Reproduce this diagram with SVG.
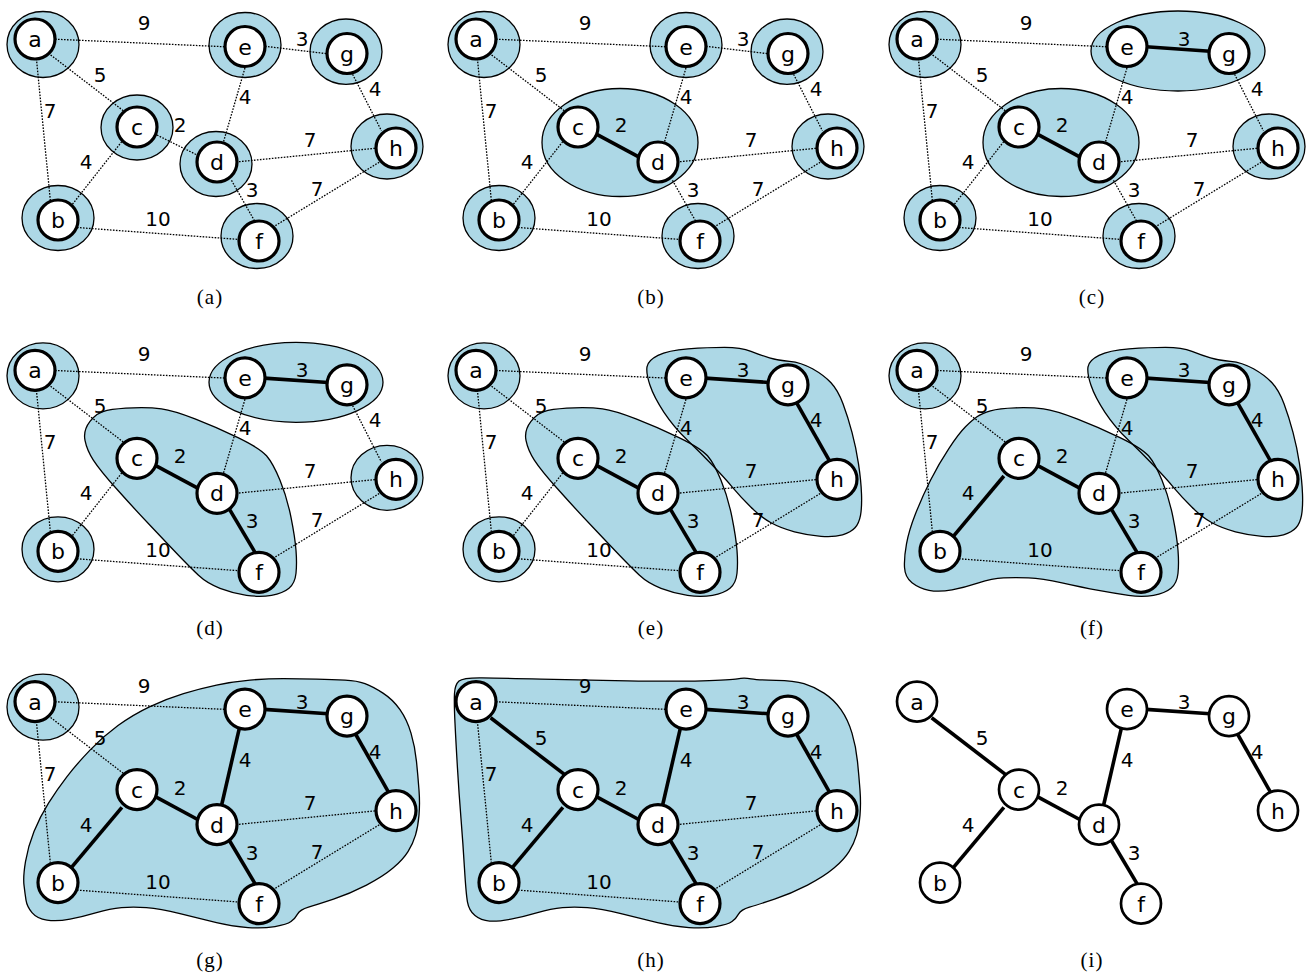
<svg xmlns="http://www.w3.org/2000/svg" xmlns:xlink="http://www.w3.org/1999/xlink" width="1307" height="975" viewBox="0 0 1307 975">
<style>
.rf{fill:#add8e6;stroke:none}
.ro{fill:none;stroke:#000;stroke-width:1.3}
.dt line{stroke:#000;stroke-width:1.3;stroke-dasharray:1.6 1.4;fill:none}
.tk line{stroke:#000;stroke-width:3.6;fill:none}
.n circle{fill:#fff;stroke:#000;stroke-width:3.2}
.ni circle{stroke-width:2.7}
.n text{font-family:"DejaVu Sans",sans-serif;font-size:22px;text-anchor:middle;fill:#000}
.w{font-family:"DejaVu Sans",sans-serif;font-size:20px;text-anchor:middle;fill:#000}
.cap{font-family:"Liberation Serif",serif;font-size:21px;letter-spacing:1px;text-anchor:middle;fill:#000}
</style>
<defs>
<ellipse id="rA" cx="43" cy="44.5" rx="36" ry="33"/>
<ellipse id="rE" cx="245" cy="45" rx="36" ry="32.5"/>
<ellipse id="rG" cx="346" cy="51.7" rx="36" ry="32.7"/>
<ellipse id="rC" cx="137" cy="127.5" rx="36" ry="32.5"/>
<ellipse id="rD" cx="216" cy="164" rx="36" ry="32.5"/>
<ellipse id="rH" cx="387" cy="146.5" rx="36" ry="32.5"/>
<ellipse id="rB" cx="58" cy="218" rx="36" ry="32.5"/>
<ellipse id="rF" cx="257" cy="236" rx="36" ry="32.5"/>
<ellipse id="rCD" cx="179" cy="142.5" rx="78" ry="54"/>
<ellipse id="rEG" cx="296" cy="51" rx="87" ry="40"/>
<path id="bD" d="M85,109 Q83,99 90,90 Q97,81 107,79 Q117,77 133.5,76.5 Q150,76 161.5,77.5 Q173,79 195,87.5 Q217,96 238.5,106.5 Q260,117 266.5,124.5 Q273,132 280,149 Q287,166 291,186 Q295,206 296,219 Q297,232 296,242 Q295,252 289,257 Q283,262 271.5,264 Q260,266 246.5,264 Q233,262 220,257 Q207,252 198.5,244 Q190,236 178.5,224 Q167,212 150,194 Q133,176 116.5,157.5 Q100,139 93.5,129 Q87,119 85,109 Z"/>
<path id="bE" d="M206,35.5 Q207,29 217,24 Q227,19 247,17.5 Q267,16 283.5,16 Q300,16 310,20 Q320,24 328.5,26.5 Q337,29 348.5,30 Q360,31 371.5,37.5 Q383,44 390,51.5 Q397,59 402,72.5 Q407,86 411,101 Q415,116 417.5,132.5 Q420,149 420.5,162.5 Q421,176 419.5,184 Q418,192 414,196.5 Q410,201 401.5,203.5 Q393,206 380,205 Q367,204 353.5,200.5 Q340,197 330,191.5 Q320,186 310,176 Q300,166 291.5,156 Q283,146 271.5,134 Q260,122 246.5,109 Q233,96 223,81 Q213,66 209,54 Q205,42 206,35.5 Z"/>
<path id="bF" d="M95,85.5 Q100,82 108.5,79.5 Q117,77 133.5,76.5 Q150,76 161.5,77.5 Q173,79 195,87.5 Q217,96 238.5,106.5 Q260,117 266.5,124.5 Q273,132 280,149 Q287,166 291,186 Q295,206 296,219 Q297,232 296,242 Q295,252 289,257 Q283,262 271.5,264 Q260,266 246.5,264 Q233,262 216.5,259 Q200,256 180,251.5 Q160,247 146.5,246.5 Q133,246 121.5,246.5 Q110,247 96.5,251.5 Q83,256 70,258.5 Q57,261 47,259 Q37,257 30,251.5 Q23,246 22.5,236 Q22,226 24.5,212.5 Q27,199 33.5,182.5 Q40,166 48.5,149 Q57,132 67,117 Q77,102 83.5,95.5 Q90,89 95,85.5 Z"/>
<path id="bG" d="M26,237.5 Q25,231 24,222.5 Q23,214 25.5,199 Q28,184 34,169 Q40,154 48.5,140.5 Q57,127 67,114 Q77,101 90,87.5 Q103,74 118,63 Q133,52 150,44 Q167,36 183.5,31 Q200,26 216.5,22.5 Q233,19 250,17.5 Q267,16 283.5,16 Q300,16 316.5,16.5 Q333,17 345,17.5 Q357,18 365,21 Q373,24 383,30.5 Q393,37 400,47 Q407,57 411,70.5 Q415,84 416.5,99 Q418,114 419,127.5 Q420,141 419,152.5 Q418,164 415.5,172.5 Q413,181 408,189 Q403,197 393,205.5 Q383,214 366.5,222.5 Q350,231 333.5,236.5 Q317,242 308.5,244.5 Q300,247 297.5,251.5 Q295,256 291,259 Q287,262 275,264 Q263,266 248,265 Q233,264 216.5,260 Q200,256 180,251 Q160,246 146.5,245 Q133,244 121.5,245 Q110,246 96.5,250 Q83,254 70,256.5 Q57,259 47,257.5 Q37,256 32,250 Q27,244 26,237.5 Z"/>
<path id="bH" d="M14,60.5 Q13,40 13.5,31 Q14,22 18,18.5 Q22,15 41,15.25 Q60,15.5 100,16.5 Q140,17.5 186.5,18.25 Q233,19 261.5,18.2 Q290,17.4 296.5,16.2 Q303,15 310,16.2 Q317,17.4 335,17.7 Q353,18 363,21 Q373,24 383,30.5 Q393,37 400,47 Q407,57 411,70.5 Q415,84 416.5,99 Q418,114 419,127.5 Q420,141 419,152.5 Q418,164 415.5,172.5 Q413,181 408,189 Q403,197 393,205.5 Q383,214 366.5,222.5 Q350,231 333.5,236.5 Q317,242 308.5,244.5 Q300,247 297.5,251.5 Q295,256 291,259 Q287,262 275,264 Q263,266 248,265 Q233,264 216.5,260 Q200,256 180,251 Q160,246 146.5,245 Q133,244 121.5,245 Q110,246 96.5,250 Q83,254 70,256.5 Q57,259 48.5,258.5 Q40,258 34,253 Q28,248 26.5,239.5 Q25,231 23.5,206 Q22,181 20,156 Q18,131 16.5,106 Q15,81 14,60.5 Z"/>
</defs>
<rect width="1307" height="975" fill="#fff"/>

<!-- (a) -->
<g id="panel-a">
<g id="regions-a">
<use xlink:href="#rA" class="rf"/><use xlink:href="#rE" class="rf"/><use xlink:href="#rG" class="rf"/><use xlink:href="#rC" class="rf"/><use xlink:href="#rD" class="rf"/><use xlink:href="#rH" class="rf"/><use xlink:href="#rB" class="rf"/><use xlink:href="#rF" class="rf"/>
<use xlink:href="#rA" class="ro"/><use xlink:href="#rE" class="ro"/><use xlink:href="#rG" class="ro"/><use xlink:href="#rC" class="ro"/><use xlink:href="#rD" class="ro"/><use xlink:href="#rH" class="ro"/><use xlink:href="#rB" class="ro"/><use xlink:href="#rF" class="ro"/>
</g>
<g id="connectors-a">
<g class="dt">
<line x1="55" y1="39.2" x2="226" y2="46.8"/><line x1="265" y1="46.3" x2="327" y2="53.7"/><line x1="50.6" y1="54.9" x2="123.4" y2="110.8"/><line x1="36.4" y1="58.7" x2="50.3" y2="200"/><line x1="154.3" y1="133.7" x2="197.7" y2="155.3"/><line x1="245.8" y1="65.1" x2="223.2" y2="142.9"/><line x1="352.6" y1="74.3" x2="381.4" y2="130.7"/><line x1="236" y1="162" x2="378" y2="148"/><line x1="123.6" y1="139.3" x2="72.1" y2="204.7"/><line x1="231.5" y1="180.4" x2="255.5" y2="222.6"/><line x1="275.4" y1="225.6" x2="380.6" y2="161.4"/><line x1="77" y1="227.5" x2="240" y2="239.5"/>
</g>
<text class="w" x="144" y="30">9</text><text class="w" x="302" y="46">3</text><text class="w" x="100" y="82">5</text><text class="w" x="50" y="118">7</text><text class="w" x="180" y="132">2</text><text class="w" x="245" y="104">4</text><text class="w" x="375" y="96">4</text><text class="w" x="310" y="147">7</text><text class="w" x="86" y="169">4</text><text class="w" x="252" y="197">3</text><text class="w" x="317" y="196">7</text><text class="w" x="158" y="226">10</text>
</g>
<g id="a-a" class="n"><circle cx="35" cy="39" r="20"/><text x="35" y="47">a</text></g>
<g id="a-e" class="n"><circle cx="245" cy="46.5" r="20"/><text x="245" y="54.5">e</text></g>
<g id="a-g" class="n"><circle cx="347" cy="53.5" r="20"/><text x="347" y="61.5">g</text></g>
<g id="a-c" class="n"><circle cx="137" cy="127" r="20"/><text x="137" y="135">c</text></g>
<g id="a-d" class="n"><circle cx="217" cy="162" r="20"/><text x="217" y="170">d</text></g>
<g id="a-h" class="n"><circle cx="396" cy="148" r="20"/><text x="396" y="156">h</text></g>
<g id="a-b" class="n"><circle cx="58" cy="220" r="20"/><text x="58" y="228">b</text></g>
<g id="a-f" class="n"><circle cx="259" cy="241" r="20"/><text x="259" y="249">f</text></g>
<text class="cap" x="210" y="304">(a)</text>
</g>

<!-- (b) -->
<g id="panel-b" transform="translate(441,0)">
<g id="regions-b">
<use xlink:href="#rA" class="rf"/><use xlink:href="#rE" class="rf"/><use xlink:href="#rG" class="rf"/><use xlink:href="#rCD" class="rf"/><use xlink:href="#rH" class="rf"/><use xlink:href="#rB" class="rf"/><use xlink:href="#rF" class="rf"/>
<use xlink:href="#rA" class="ro"/><use xlink:href="#rE" class="ro"/><use xlink:href="#rG" class="ro"/><use xlink:href="#rCD" class="ro"/><use xlink:href="#rH" class="ro"/><use xlink:href="#rB" class="ro"/><use xlink:href="#rF" class="ro"/>
</g>
<g id="connectors-b">
<g class="dt">
<line x1="55" y1="39.2" x2="226" y2="46.8"/><line x1="265" y1="46.3" x2="327" y2="53.7"/><line x1="50.6" y1="54.9" x2="123.4" y2="110.8"/><line x1="36.4" y1="58.7" x2="50.3" y2="200"/><line x1="245.8" y1="65.1" x2="223.2" y2="142.9"/><line x1="352.6" y1="74.3" x2="381.4" y2="130.7"/><line x1="236" y1="162" x2="378" y2="148"/><line x1="123.6" y1="139.3" x2="72.1" y2="204.7"/><line x1="231.5" y1="180.4" x2="255.5" y2="222.6"/><line x1="275.4" y1="225.6" x2="380.6" y2="161.4"/><line x1="77" y1="227.5" x2="240" y2="239.5"/>
</g>
<g class="tk"><line x1="154.4" y1="133.6" x2="198.6" y2="157.4"/></g>
<text class="w" x="144" y="30">9</text><text class="w" x="302" y="46">3</text><text class="w" x="100" y="82">5</text><text class="w" x="50" y="118">7</text><text class="w" x="180" y="132">2</text><text class="w" x="245" y="104">4</text><text class="w" x="375" y="96">4</text><text class="w" x="310" y="147">7</text><text class="w" x="86" y="169">4</text><text class="w" x="252" y="197">3</text><text class="w" x="317" y="196">7</text><text class="w" x="158" y="226">10</text>
</g>
<g id="b-a" class="n"><circle cx="35" cy="39" r="20"/><text x="35" y="47">a</text></g>
<g id="b-e" class="n"><circle cx="245" cy="46.5" r="20"/><text x="245" y="54.5">e</text></g>
<g id="b-g" class="n"><circle cx="347" cy="53.5" r="20"/><text x="347" y="61.5">g</text></g>
<g id="b-c" class="n"><circle cx="137" cy="127" r="20"/><text x="137" y="135">c</text></g>
<g id="b-d" class="n"><circle cx="217" cy="162" r="20"/><text x="217" y="170">d</text></g>
<g id="b-h" class="n"><circle cx="396" cy="148" r="20"/><text x="396" y="156">h</text></g>
<g id="b-b" class="n"><circle cx="58" cy="220" r="20"/><text x="58" y="228">b</text></g>
<g id="b-f" class="n"><circle cx="259" cy="241" r="20"/><text x="259" y="249">f</text></g>
<text class="cap" x="210" y="304">(b)</text>
</g>

<!-- (c) -->
<g id="panel-c" transform="translate(882,0)">
<g id="regions-c">
<use xlink:href="#rA" class="rf"/><use xlink:href="#rEG" class="rf"/><use xlink:href="#rCD" class="rf"/><use xlink:href="#rH" class="rf"/><use xlink:href="#rB" class="rf"/><use xlink:href="#rF" class="rf"/>
<use xlink:href="#rA" class="ro"/><use xlink:href="#rEG" class="ro"/><use xlink:href="#rCD" class="ro"/><use xlink:href="#rH" class="ro"/><use xlink:href="#rB" class="ro"/><use xlink:href="#rF" class="ro"/>
</g>
<g id="connectors-c">
<g class="dt">
<line x1="55" y1="39.2" x2="226" y2="46.8"/><line x1="50.6" y1="54.9" x2="123.4" y2="110.8"/><line x1="36.4" y1="58.7" x2="50.3" y2="200"/><line x1="245.8" y1="65.1" x2="223.2" y2="142.9"/><line x1="352.6" y1="74.3" x2="381.4" y2="130.7"/><line x1="236" y1="162" x2="378" y2="148"/><line x1="123.6" y1="139.3" x2="72.1" y2="204.7"/><line x1="231.5" y1="180.4" x2="255.5" y2="222.6"/><line x1="275.4" y1="225.6" x2="380.6" y2="161.4"/><line x1="77" y1="227.5" x2="240" y2="239.5"/>
</g>
<g class="tk"><line x1="154.4" y1="133.6" x2="198.6" y2="157.4"/><line x1="264" y1="46.8" x2="328" y2="51.2"/></g>
<text class="w" x="144" y="30">9</text><text class="w" x="302" y="46">3</text><text class="w" x="100" y="82">5</text><text class="w" x="50" y="118">7</text><text class="w" x="180" y="132">2</text><text class="w" x="245" y="104">4</text><text class="w" x="375" y="96">4</text><text class="w" x="310" y="147">7</text><text class="w" x="86" y="169">4</text><text class="w" x="252" y="197">3</text><text class="w" x="317" y="196">7</text><text class="w" x="158" y="226">10</text>
</g>
<g id="c-a" class="n"><circle cx="35" cy="39" r="20"/><text x="35" y="47">a</text></g>
<g id="c-e" class="n"><circle cx="245" cy="46.5" r="20"/><text x="245" y="54.5">e</text></g>
<g id="c-g" class="n"><circle cx="347" cy="53.5" r="20"/><text x="347" y="61.5">g</text></g>
<g id="c-c" class="n"><circle cx="137" cy="127" r="20"/><text x="137" y="135">c</text></g>
<g id="c-d" class="n"><circle cx="217" cy="162" r="20"/><text x="217" y="170">d</text></g>
<g id="c-h" class="n"><circle cx="396" cy="148" r="20"/><text x="396" y="156">h</text></g>
<g id="c-b" class="n"><circle cx="58" cy="220" r="20"/><text x="58" y="228">b</text></g>
<g id="c-f" class="n"><circle cx="259" cy="241" r="20"/><text x="259" y="249">f</text></g>
<text class="cap" x="210" y="304">(c)</text>
</g>

<!-- (d) -->
<g id="panel-d" transform="translate(0,331.3)">
<g id="regions-d">
<use xlink:href="#rA" class="rf"/><use xlink:href="#rEG" class="rf"/><use xlink:href="#bD" class="rf"/><use xlink:href="#rH" class="rf"/><use xlink:href="#rB" class="rf"/>
<use xlink:href="#rA" class="ro"/><use xlink:href="#rEG" class="ro"/><use xlink:href="#bD" class="ro"/><use xlink:href="#rH" class="ro"/><use xlink:href="#rB" class="ro"/>
</g>
<g id="connectors-d">
<g class="dt">
<line x1="55" y1="39.2" x2="226" y2="46.8"/><line x1="50.6" y1="54.9" x2="123.4" y2="110.8"/><line x1="36.4" y1="58.7" x2="50.3" y2="200"/><line x1="245.8" y1="65.1" x2="223.2" y2="142.9"/><line x1="352.6" y1="74.3" x2="381.4" y2="130.7"/><line x1="236" y1="162" x2="378" y2="148"/><line x1="123.6" y1="139.3" x2="72.1" y2="204.7"/><line x1="275.4" y1="225.6" x2="380.6" y2="161.4"/><line x1="77" y1="227.5" x2="240" y2="239.5"/>
</g>
<g class="tk"><line x1="154.4" y1="133.6" x2="198.6" y2="157.4"/><line x1="264" y1="46.8" x2="328" y2="51.2"/><line x1="228.5" y1="176.4" x2="256.5" y2="223.6"/></g>
<text class="w" x="144" y="30">9</text><text class="w" x="302" y="46">3</text><text class="w" x="100" y="82">5</text><text class="w" x="50" y="118">7</text><text class="w" x="180" y="132">2</text><text class="w" x="245" y="104">4</text><text class="w" x="375" y="96">4</text><text class="w" x="310" y="147">7</text><text class="w" x="86" y="169">4</text><text class="w" x="252" y="197">3</text><text class="w" x="317" y="196">7</text><text class="w" x="158" y="226">10</text>
</g>
<g id="d-a" class="n"><circle cx="35" cy="39" r="20"/><text x="35" y="47">a</text></g>
<g id="d-e" class="n"><circle cx="245" cy="46.5" r="20"/><text x="245" y="54.5">e</text></g>
<g id="d-g" class="n"><circle cx="347" cy="53.5" r="20"/><text x="347" y="61.5">g</text></g>
<g id="d-c" class="n"><circle cx="137" cy="127" r="20"/><text x="137" y="135">c</text></g>
<g id="d-d" class="n"><circle cx="217" cy="162" r="20"/><text x="217" y="170">d</text></g>
<g id="d-h" class="n"><circle cx="396" cy="148" r="20"/><text x="396" y="156">h</text></g>
<g id="d-b" class="n"><circle cx="58" cy="220" r="20"/><text x="58" y="228">b</text></g>
<g id="d-f" class="n"><circle cx="259" cy="241" r="20"/><text x="259" y="249">f</text></g>
<text class="cap" x="210" y="304">(d)</text>
</g>

<!-- (e) -->
<g id="panel-e" transform="translate(441,331.3)">
<g id="regions-e">
<use xlink:href="#rA" class="rf"/><use xlink:href="#bE" class="rf"/><use xlink:href="#bD" class="rf"/><use xlink:href="#rB" class="rf"/>
<use xlink:href="#rA" class="ro"/><use xlink:href="#bE" class="ro"/><use xlink:href="#bD" class="ro"/><use xlink:href="#rB" class="ro"/>
</g>
<g id="connectors-e">
<g class="dt">
<line x1="55" y1="39.2" x2="226" y2="46.8"/><line x1="50.6" y1="54.9" x2="123.4" y2="110.8"/><line x1="36.4" y1="58.7" x2="50.3" y2="200"/><line x1="245.8" y1="65.1" x2="223.2" y2="142.9"/><line x1="236" y1="162" x2="378" y2="148"/><line x1="123.6" y1="139.3" x2="72.1" y2="204.7"/><line x1="275.4" y1="225.6" x2="380.6" y2="161.4"/><line x1="77" y1="227.5" x2="240" y2="239.5"/>
</g>
<g class="tk"><line x1="154.4" y1="133.6" x2="198.6" y2="157.4"/><line x1="264" y1="46.8" x2="328" y2="51.2"/><line x1="228.5" y1="176.4" x2="256.5" y2="223.6"/><line x1="355.5" y1="71.4" x2="388.5" y2="129.6"/></g>
<text class="w" x="144" y="30">9</text><text class="w" x="302" y="46">3</text><text class="w" x="100" y="82">5</text><text class="w" x="50" y="118">7</text><text class="w" x="180" y="132">2</text><text class="w" x="245" y="104">4</text><text class="w" x="375" y="96">4</text><text class="w" x="310" y="147">7</text><text class="w" x="86" y="169">4</text><text class="w" x="252" y="197">3</text><text class="w" x="317" y="196">7</text><text class="w" x="158" y="226">10</text>
</g>
<g id="e-a" class="n"><circle cx="35" cy="39" r="20"/><text x="35" y="47">a</text></g>
<g id="e-e" class="n"><circle cx="245" cy="46.5" r="20"/><text x="245" y="54.5">e</text></g>
<g id="e-g" class="n"><circle cx="347" cy="53.5" r="20"/><text x="347" y="61.5">g</text></g>
<g id="e-c" class="n"><circle cx="137" cy="127" r="20"/><text x="137" y="135">c</text></g>
<g id="e-d" class="n"><circle cx="217" cy="162" r="20"/><text x="217" y="170">d</text></g>
<g id="e-h" class="n"><circle cx="396" cy="148" r="20"/><text x="396" y="156">h</text></g>
<g id="e-b" class="n"><circle cx="58" cy="220" r="20"/><text x="58" y="228">b</text></g>
<g id="e-f" class="n"><circle cx="259" cy="241" r="20"/><text x="259" y="249">f</text></g>
<text class="cap" x="210" y="304">(e)</text>
</g>

<!-- (f) -->
<g id="panel-f" transform="translate(882,331.3)">
<g id="regions-f">
<use xlink:href="#rA" class="rf"/><use xlink:href="#bE" class="rf"/><use xlink:href="#bF" class="rf"/>
<use xlink:href="#rA" class="ro"/><use xlink:href="#bE" class="ro"/><use xlink:href="#bF" class="ro"/>
</g>
<g id="connectors-f">
<g class="dt">
<line x1="55" y1="39.2" x2="226" y2="46.8"/><line x1="50.6" y1="54.9" x2="123.4" y2="110.8"/><line x1="36.4" y1="58.7" x2="50.3" y2="200"/><line x1="245.8" y1="65.1" x2="223.2" y2="142.9"/><line x1="236" y1="162" x2="378" y2="148"/><line x1="275.4" y1="225.6" x2="380.6" y2="161.4"/><line x1="77" y1="227.5" x2="240" y2="239.5"/>
</g>
<g class="tk"><line x1="154.4" y1="133.6" x2="198.6" y2="157.4"/><line x1="264" y1="46.8" x2="328" y2="51.2"/><line x1="228.5" y1="176.4" x2="256.5" y2="223.6"/><line x1="355.5" y1="71.4" x2="388.5" y2="129.6"/><line x1="121.9" y1="144.7" x2="71.1" y2="205.3"/></g>
<text class="w" x="144" y="30">9</text><text class="w" x="302" y="46">3</text><text class="w" x="100" y="82">5</text><text class="w" x="50" y="118">7</text><text class="w" x="180" y="132">2</text><text class="w" x="245" y="104">4</text><text class="w" x="375" y="96">4</text><text class="w" x="310" y="147">7</text><text class="w" x="86" y="169">4</text><text class="w" x="252" y="197">3</text><text class="w" x="317" y="196">7</text><text class="w" x="158" y="226">10</text>
</g>
<g id="f-a" class="n"><circle cx="35" cy="39" r="20"/><text x="35" y="47">a</text></g>
<g id="f-e" class="n"><circle cx="245" cy="46.5" r="20"/><text x="245" y="54.5">e</text></g>
<g id="f-g" class="n"><circle cx="347" cy="53.5" r="20"/><text x="347" y="61.5">g</text></g>
<g id="f-c" class="n"><circle cx="137" cy="127" r="20"/><text x="137" y="135">c</text></g>
<g id="f-d" class="n"><circle cx="217" cy="162" r="20"/><text x="217" y="170">d</text></g>
<g id="f-h" class="n"><circle cx="396" cy="148" r="20"/><text x="396" y="156">h</text></g>
<g id="f-b" class="n"><circle cx="58" cy="220" r="20"/><text x="58" y="228">b</text></g>
<g id="f-f" class="n"><circle cx="259" cy="241" r="20"/><text x="259" y="249">f</text></g>
<text class="cap" x="210" y="304">(f)</text>
</g>

<!-- (g) -->
<g id="panel-g" transform="translate(0,662.6)">
<g id="regions-g">
<use xlink:href="#rA" class="rf"/><use xlink:href="#bG" class="rf"/>
<use xlink:href="#rA" class="ro"/><use xlink:href="#bG" class="ro"/>
</g>
<g id="connectors-g">
<g class="dt">
<line x1="55" y1="39.2" x2="226" y2="46.8"/><line x1="50.6" y1="54.9" x2="123.4" y2="110.8"/><line x1="36.4" y1="58.7" x2="50.3" y2="200"/><line x1="236" y1="162" x2="378" y2="148"/><line x1="275.4" y1="225.6" x2="380.6" y2="161.4"/><line x1="77" y1="227.5" x2="240" y2="239.5"/>
</g>
<g class="tk"><line x1="154.4" y1="133.6" x2="198.6" y2="157.4"/><line x1="264" y1="46.8" x2="328" y2="51.2"/><line x1="228.5" y1="176.4" x2="256.5" y2="223.6"/><line x1="355.5" y1="71.4" x2="388.5" y2="129.6"/><line x1="121.9" y1="144.7" x2="71.1" y2="205.3"/><line x1="239.7" y1="64.1" x2="221.3" y2="143.9"/></g>
<text class="w" x="144" y="30">9</text><text class="w" x="302" y="46">3</text><text class="w" x="100" y="82">5</text><text class="w" x="50" y="118">7</text><text class="w" x="180" y="132">2</text><text class="w" x="245" y="104">4</text><text class="w" x="375" y="96">4</text><text class="w" x="310" y="147">7</text><text class="w" x="86" y="169">4</text><text class="w" x="252" y="197">3</text><text class="w" x="317" y="196">7</text><text class="w" x="158" y="226">10</text>
</g>
<g id="g-a" class="n"><circle cx="35" cy="39" r="20"/><text x="35" y="47">a</text></g>
<g id="g-e" class="n"><circle cx="245" cy="46.5" r="20"/><text x="245" y="54.5">e</text></g>
<g id="g-g" class="n"><circle cx="347" cy="53.5" r="20"/><text x="347" y="61.5">g</text></g>
<g id="g-c" class="n"><circle cx="137" cy="127" r="20"/><text x="137" y="135">c</text></g>
<g id="g-d" class="n"><circle cx="217" cy="162" r="20"/><text x="217" y="170">d</text></g>
<g id="g-h" class="n"><circle cx="396" cy="148" r="20"/><text x="396" y="156">h</text></g>
<g id="g-b" class="n"><circle cx="58" cy="220" r="20"/><text x="58" y="228">b</text></g>
<g id="g-f" class="n"><circle cx="259" cy="241" r="20"/><text x="259" y="249">f</text></g>
<text class="cap" x="210" y="304">(g)</text>
</g>

<!-- (h) -->
<g id="panel-h" transform="translate(441,662.6)">
<g id="regions-h">
<use xlink:href="#bH" class="rf"/>
<use xlink:href="#bH" class="ro"/>
</g>
<g id="connectors-h">
<g class="dt">
<line x1="55" y1="39.2" x2="226" y2="46.8"/><line x1="36.4" y1="58.7" x2="50.3" y2="200"/><line x1="236" y1="162" x2="378" y2="148"/><line x1="275.4" y1="225.6" x2="380.6" y2="161.4"/><line x1="77" y1="227.5" x2="240" y2="239.5"/>
</g>
<g class="tk"><line x1="154.4" y1="133.6" x2="198.6" y2="157.4"/><line x1="264" y1="46.8" x2="328" y2="51.2"/><line x1="228.5" y1="176.4" x2="256.5" y2="223.6"/><line x1="355.5" y1="71.4" x2="388.5" y2="129.6"/><line x1="121.9" y1="144.7" x2="71.1" y2="205.3"/><line x1="239.7" y1="64.1" x2="221.3" y2="143.9"/><line x1="49.6" y1="55.2" x2="123.4" y2="111.8"/></g>
<text class="w" x="144" y="30">9</text><text class="w" x="302" y="46">3</text><text class="w" x="100" y="82">5</text><text class="w" x="50" y="118">7</text><text class="w" x="180" y="132">2</text><text class="w" x="245" y="104">4</text><text class="w" x="375" y="96">4</text><text class="w" x="310" y="147">7</text><text class="w" x="86" y="169">4</text><text class="w" x="252" y="197">3</text><text class="w" x="317" y="196">7</text><text class="w" x="158" y="226">10</text>
</g>
<g id="h-a" class="n"><circle cx="35" cy="39" r="20"/><text x="35" y="47">a</text></g>
<g id="h-e" class="n"><circle cx="245" cy="46.5" r="20"/><text x="245" y="54.5">e</text></g>
<g id="h-g" class="n"><circle cx="347" cy="53.5" r="20"/><text x="347" y="61.5">g</text></g>
<g id="h-c" class="n"><circle cx="137" cy="127" r="20"/><text x="137" y="135">c</text></g>
<g id="h-d" class="n"><circle cx="217" cy="162" r="20"/><text x="217" y="170">d</text></g>
<g id="h-h" class="n"><circle cx="396" cy="148" r="20"/><text x="396" y="156">h</text></g>
<g id="h-b" class="n"><circle cx="58" cy="220" r="20"/><text x="58" y="228">b</text></g>
<g id="h-f" class="n"><circle cx="259" cy="241" r="20"/><text x="259" y="249">f</text></g>
<text class="cap" x="210" y="304">(h)</text>
</g>

<!-- (i) -->
<g id="panel-i" transform="translate(882,662.6)">
<g id="connectors-i">
<g class="tk"><line x1="154.4" y1="133.6" x2="198.6" y2="157.4"/><line x1="264" y1="46.8" x2="328" y2="51.2"/><line x1="228.5" y1="176.4" x2="256.5" y2="223.6"/><line x1="355.5" y1="71.4" x2="388.5" y2="129.6"/><line x1="121.9" y1="144.7" x2="71.1" y2="205.3"/><line x1="239.7" y1="64.1" x2="221.3" y2="143.9"/><line x1="49.6" y1="55.2" x2="123.4" y2="111.8"/></g>
<text class="w" x="302" y="46">3</text><text class="w" x="100" y="82">5</text><text class="w" x="180" y="132">2</text><text class="w" x="245" y="104">4</text><text class="w" x="375" y="96">4</text><text class="w" x="86" y="169">4</text><text class="w" x="252" y="197">3</text>
</g>
<g id="i-a" class="n ni"><circle cx="35" cy="39" r="20"/><text x="35" y="47">a</text></g>
<g id="i-e" class="n ni"><circle cx="245" cy="46.5" r="20"/><text x="245" y="54.5">e</text></g>
<g id="i-g" class="n ni"><circle cx="347" cy="53.5" r="20"/><text x="347" y="61.5">g</text></g>
<g id="i-c" class="n ni"><circle cx="137" cy="127" r="20"/><text x="137" y="135">c</text></g>
<g id="i-d" class="n ni"><circle cx="217" cy="162" r="20"/><text x="217" y="170">d</text></g>
<g id="i-h" class="n ni"><circle cx="396" cy="148" r="20"/><text x="396" y="156">h</text></g>
<g id="i-b" class="n ni"><circle cx="58" cy="220" r="20"/><text x="58" y="228">b</text></g>
<g id="i-f" class="n ni"><circle cx="259" cy="241" r="20"/><text x="259" y="249">f</text></g>
<text class="cap" x="210" y="304">(i)</text>
</g>
</svg>
